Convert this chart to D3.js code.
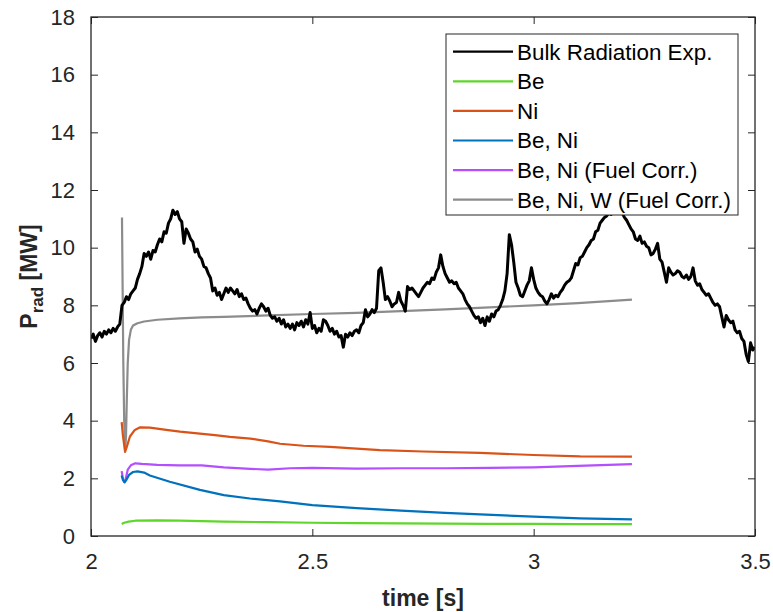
<!DOCTYPE html>
<html>
<head>
<meta charset="utf-8">
<script src="https://cdn.jsdelivr.net/npm/d3@7"></script>
<style>
  html, body { margin: 0; padding: 0; background: #fff; }
  svg { display: block; font-family: "Liberation Sans", Arial, Helvetica, sans-serif; }
</style>
</head>
<body>
<svg id="chart" width="773" height="612"></svg>
<script>
// Measured bulk radiation: sampled every 5 ms from 2.000 s to 3.500 s
const expStart = 2.0;
const expStep = 0.005;
const expValues = [
  6.85, 7.0, 6.75, 6.95, 7.05, 6.9, 7.1, 7.0, 7.15, 7.05,
  7.2, 7.1, 7.25, 7.35, 8.0, 8.1, 8.3, 8.2, 8.4, 8.5,
  8.6, 8.9, 9.1, 9.35, 9.8, 9.7, 9.85, 9.6, 9.9, 9.85,
  10.1, 10.3, 10.2, 10.55, 10.5, 10.85, 11.0, 11.3, 11.15, 11.25,
  11.0, 10.9, 10.15, 10.65, 10.5, 10.3, 10.2, 9.85, 9.95, 9.7,
  9.6, 9.35, 9.3, 9.1, 8.95, 8.5, 8.6, 8.35, 8.45, 8.2,
  8.4, 8.6, 8.45, 8.6, 8.5, 8.4, 8.55, 8.3, 8.4, 8.2,
  8.25, 8.05, 7.9, 7.8, 7.85, 7.7, 7.9, 8.05, 7.95, 7.8,
  7.9, 7.65, 7.55, 7.6, 7.45, 7.55, 7.35, 7.5, 7.25, 7.35,
  7.2, 7.35, 7.15, 7.4, 7.3, 7.45, 7.25, 7.5, 7.35, 7.75,
  7.2, 7.3, 7.05, 7.2, 7.1, 7.5, 7.45, 7.3, 7.1, 7.2,
  7.0, 7.1, 6.9, 6.95, 6.55, 7.0, 6.9, 7.05, 6.95, 7.1,
  7.15, 7.05, 7.3, 7.4, 7.85, 7.6, 7.7, 7.85, 7.75, 7.9,
  9.2, 9.3, 8.8, 8.2, 8.3, 8.15, 7.95, 8.05, 8.1, 8.45,
  8.15, 8.0, 7.8, 8.65, 8.55, 8.6, 8.5, 8.4, 8.3, 8.45,
  8.6, 8.7, 8.8, 8.75, 8.95, 8.9, 9.15, 9.3, 9.75, 9.35,
  9.1, 8.95, 8.8, 8.85, 8.75, 8.8, 8.6, 8.5, 8.4, 8.2,
  8.05, 7.95, 7.8, 7.65, 7.55, 7.6, 7.4, 7.55, 7.3, 7.6,
  7.45, 7.7, 7.6, 7.8, 7.85, 8.0, 8.2, 8.5, 9.1, 10.45,
  10.1, 9.5, 8.8, 8.6, 8.35, 8.3, 8.5, 8.7, 8.85, 9.3,
  8.9, 8.6, 8.45, 8.35, 8.3, 8.15, 8.05, 8.2, 8.4, 8.25,
  8.35, 8.3, 8.45, 8.55, 8.7, 8.8, 8.85, 8.95, 9.2, 9.45,
  9.4, 9.65, 9.7, 9.85, 10.0, 10.1, 10.25, 10.3, 10.55, 10.6,
  10.85, 10.95, 11.05, 11.1, 11.2, 11.15, 11.3, 11.2, 11.35, 11.25,
  11.2, 11.05, 10.95, 10.8, 10.65, 10.55, 10.3, 10.25, 10.4, 10.15,
  10.2, 10.05, 10.0, 9.75, 9.8, 9.95, 10.15, 9.6, 9.5, 9.15,
  8.8, 9.3, 9.15, 9.05, 9.1, 9.2, 9.15, 9.0, 8.95, 9.05,
  8.9, 9.0, 9.3, 8.85, 8.7, 8.75, 8.55, 8.45, 8.35, 8.4,
  8.25, 8.1, 8.0, 8.05, 7.95, 7.6, 7.25, 7.65, 7.5, 7.4,
  7.45, 7.15, 7.05, 7.1, 6.85, 6.75, 6.3, 6.05, 6.7, 6.45,
  6.55
];

// Modelled contributions: [time (s), P_rad (MW)]
const beSeries = [
  [2.0693, 0.42], [2.075, 0.46], [2.085, 0.50], [2.10, 0.53], [2.15, 0.54],
  [2.20, 0.53], [2.30, 0.50], [2.40, 0.48], [2.50, 0.46], [2.60, 0.45],
  [2.70, 0.44], [2.80, 0.43], [2.90, 0.42], [3.00, 0.42], [3.10, 0.41], [3.222, 0.41]
];
const niSeries = [
  [2.0693, 3.95], [2.072, 3.5], [2.077, 2.92], [2.081, 3.1], [2.088, 3.45],
  [2.099, 3.68], [2.111, 3.77], [2.133, 3.76], [2.17, 3.68], [2.201, 3.62],
  [2.246, 3.55], [2.28, 3.5], [2.314, 3.44], [2.36, 3.38], [2.40, 3.28],
  [2.427, 3.2], [2.48, 3.13], [2.54, 3.09], [2.60, 3.03], [2.653, 2.98],
  [2.75, 2.93], [2.879, 2.88], [3.00, 2.81], [3.105, 2.76], [3.222, 2.75]
];
const beNiSeries = [
  [2.0693, 2.1], [2.072, 1.95], [2.076, 1.86], [2.080, 1.95], [2.086, 2.12],
  [2.095, 2.22], [2.105, 2.24], [2.12, 2.2], [2.133, 2.1], [2.178, 1.88],
  [2.246, 1.6], [2.30, 1.42], [2.359, 1.3], [2.427, 1.2], [2.50, 1.07],
  [2.60, 0.97], [2.70, 0.88], [2.80, 0.80], [2.879, 0.75], [3.00, 0.67],
  [3.105, 0.61], [3.222, 0.58]
];
const beNiFuelSeries = [
  [2.0693, 2.25], [2.072, 2.0], [2.075, 1.88], [2.078, 1.95], [2.083, 2.3],
  [2.090, 2.45], [2.100, 2.52], [2.115, 2.5], [2.15, 2.47], [2.20, 2.45],
  [2.25, 2.45], [2.30, 2.38], [2.36, 2.33], [2.40, 2.3], [2.45, 2.35],
  [2.50, 2.36], [2.60, 2.34], [2.70, 2.35], [2.80, 2.35], [2.90, 2.36],
  [3.00, 2.38], [3.10, 2.43], [3.222, 2.49]
];
const beNiWFuelSeries = [
  [2.070, 11.05], [2.0715, 8.5], [2.073, 6.0], [2.075, 4.0], [2.077, 3.0],
  [2.079, 3.4], [2.081, 4.8], [2.083, 6.0], [2.086, 6.8], [2.090, 7.15],
  [2.095, 7.3], [2.105, 7.38], [2.12, 7.44], [2.15, 7.5], [2.20, 7.55],
  [2.25, 7.58], [2.30, 7.6], [2.40, 7.65], [2.50, 7.7], [2.60, 7.74],
  [2.70, 7.8], [2.80, 7.86], [2.90, 7.93], [3.00, 8.0], [3.10, 8.08], [3.222, 8.2]
];

const legendLabels = [
  "Bulk Radiation Exp.", "Be", "Ni", "Be, Ni", "Be, Ni (Fuel Corr.)", "Be, Ni, W (Fuel Corr.)"
];
const seriesColors = ["#000000", "#5fd62a", "#d95319", "#0072bd", "#b44fff", "#8c8c8c"];

const xTicks = [2, 2.5, 3, 3.5];
const yTicks = [0, 2, 4, 6, 8, 10, 12, 14, 16, 18];

const expSeries = expValues.map((v, i) => [expStart + i * expStep, v]);
const allSeries = [expSeries, beSeries, niSeries, beNiSeries, beNiFuelSeries, beNiWFuelSeries];

const svg = d3.select("#chart");
const plot = { left: 91, right: 755, top: 17, bottom: 536 };
const axisColor = "#262626";

const x = d3.scaleLinear().domain([2, 3.5]).range([plot.left, plot.right]);
const y = d3.scaleLinear().domain([0, 18]).range([plot.bottom, plot.top]);

svg.append("defs").append("clipPath").attr("id", "plot-clip")
  .append("rect")
  .attr("x", plot.left).attr("y", plot.top)
  .attr("width", plot.right - plot.left).attr("height", plot.bottom - plot.top);

const line = d3.line().x(d => x(d[0])).y(d => y(d[1]));

const lines = svg.append("g").attr("clip-path", "url(#plot-clip)");
// draw the model curves first, experiment on top
const drawOrder = [5, 2, 4, 3, 1, 0];
drawOrder.forEach(i => {
  lines.append("path")
    .datum(allSeries[i])
    .attr("fill", "none")
    .attr("stroke", seriesColors[i])
    .attr("stroke-width", i === 0 ? 3 : 2.2)
    .attr("stroke-linejoin", "round")
    .attr("d", line);
});

// Axes on all four sides with inward ticks
const tickLen = 7;
const fontTick = 22;
function styleAxis(g) {
  g.select(".domain").remove();
  g.selectAll("line").attr("stroke", axisColor).attr("stroke-width", 1);
  g.selectAll("text").attr("fill", axisColor).attr("font-size", fontTick);
}
svg.append("g").attr("transform", `translate(0,${plot.bottom})`)
  .call(d3.axisBottom(x).tickValues(xTicks).tickFormat(d3.format("")).tickSizeInner(-tickLen).tickPadding(17))
  .call(styleAxis);
svg.append("g").attr("transform", `translate(${plot.left},0)`)
  .call(d3.axisLeft(y).tickValues(yTicks).tickSizeInner(-tickLen).tickPadding(16))
  .call(styleAxis);
svg.append("g").attr("transform", `translate(0,${plot.top})`)
  .call(d3.axisTop(x).tickValues(xTicks).tickFormat("").tickSizeInner(-tickLen))
  .call(styleAxis);
svg.append("g").attr("transform", `translate(${plot.right},0)`)
  .call(d3.axisRight(y).tickValues(yTicks).tickFormat("").tickSizeInner(-tickLen))
  .call(styleAxis);

svg.append("rect")
  .attr("x", plot.left).attr("y", plot.top)
  .attr("width", plot.right - plot.left).attr("height", plot.bottom - plot.top)
  .attr("fill", "none").attr("stroke", axisColor).attr("stroke-width", 1.3);

// Axis titles
svg.append("text")
  .attr("x", (plot.left + plot.right) / 2).attr("y", 606)
  .attr("text-anchor", "middle").attr("font-size", 23).attr("font-weight", "bold")
  .attr("fill", axisColor)
  .text("time [s]");

const yTitle = svg.append("text")
  .attr("transform", `translate(37,${(plot.top + plot.bottom) / 2}) rotate(-90)`)
  .attr("text-anchor", "middle").attr("font-size", 23).attr("font-weight", "bold")
  .attr("fill", axisColor);
yTitle.append("tspan").text("P");
yTitle.append("tspan").attr("font-size", 17).attr("dy", 6).text("rad");
yTitle.append("tspan").attr("dy", -6).text(" [MW]");

// Legend
const legend = { x: 446, y: 34, w: 292, h: 181, rowH: 29.6, firstRow: 51.7 };
const lg = svg.append("g");
lg.append("rect")
  .attr("x", legend.x).attr("y", legend.y).attr("width", legend.w).attr("height", legend.h)
  .attr("fill", "#fff").attr("stroke", axisColor).attr("stroke-width", 1);
legendLabels.forEach((label, i) => {
  const cy = legend.firstRow + i * legend.rowH;
  lg.append("line")
    .attr("x1", 453).attr("x2", 513).attr("y1", cy).attr("y2", cy)
    .attr("stroke", seriesColors[i]).attr("stroke-width", 2.2);
  lg.append("text")
    .attr("x", 517).attr("y", cy).attr("dy", "0.35em")
    .attr("font-size", 22.4).attr("fill", "#000")
    .text(label);
});
</script>
</body>
</html>
